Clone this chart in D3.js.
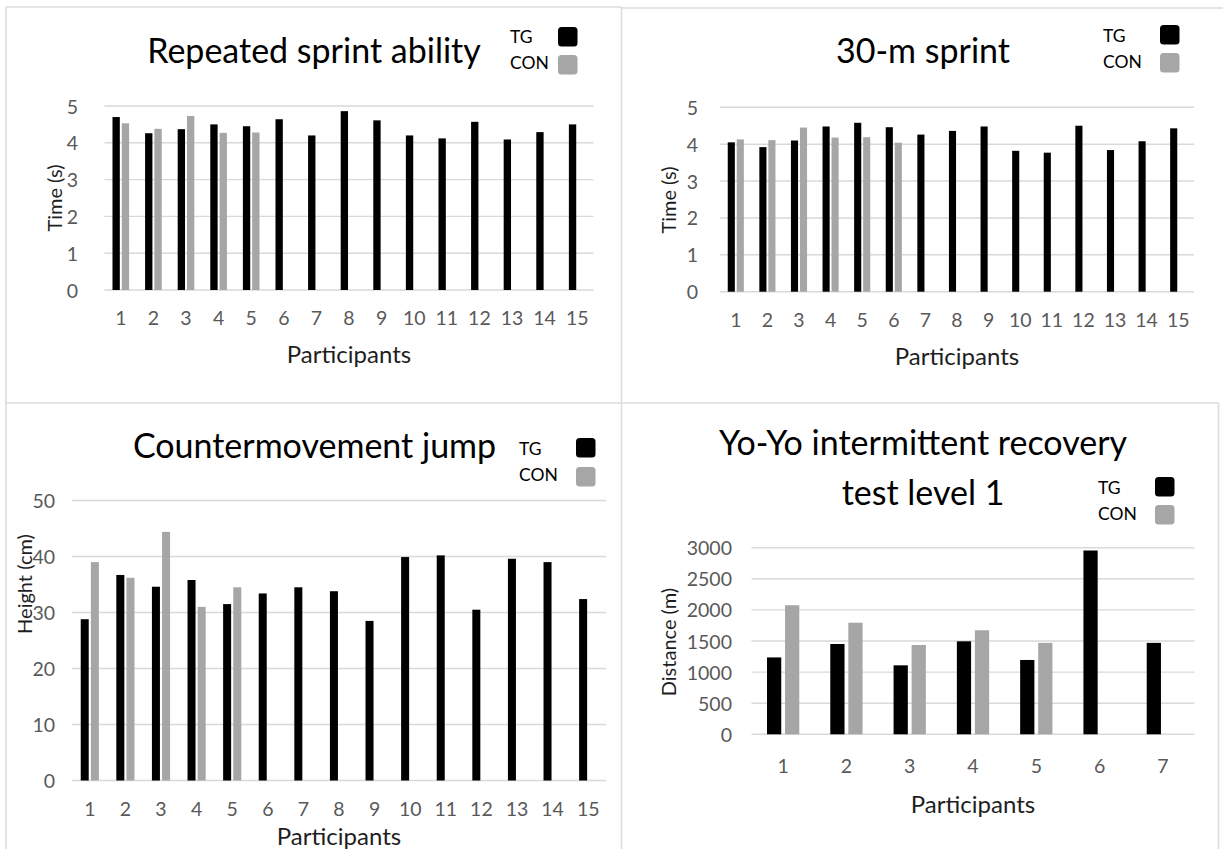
<!DOCTYPE html>
<html><head><meta charset="utf-8">
<script src="https://cdn.jsdelivr.net/npm/d3@7"></script>
<style>
body{margin:0;background:#fff}
svg{display:block}
text{font-family:Lato,"Open Sans",sans-serif}
</style>
</head><body>
<svg id="c" width="1223" height="849"></svg>
<script>
// ---------- data ----------
const participants15 = ["1","2","3","4","5","6","7","8","9","10","11","12","13","14","15"];
const participants7 = ["1","2","3","4","5","6","7"];
const seriesNames = ["TG","CON"];

const rsaTG  = [4.70,4.26,4.37,4.50,4.45,4.64,4.20,4.86,4.61,4.20,4.12,4.57,4.09,4.29,4.50];
const rsaCON = [4.53,4.38,4.73,4.27,4.28];

const sprintTG  = [4.05,3.92,4.10,4.48,4.58,4.46,4.26,4.36,4.48,3.82,3.77,4.50,3.84,4.08,4.43];
const sprintCON = [4.13,4.11,4.45,4.18,4.19,4.04];

const cmjTG  = [28.8,36.7,34.6,35.8,31.5,33.4,34.5,33.8,28.5,39.9,40.2,30.5,39.6,39.0,32.4];
const cmjCON = [39.0,36.2,44.4,31.0,34.5];

const yoyoTG  = [1236,1452,1109,1495,1195,2955,1470];
const yoyoCON = [2075,1794,1436,1672,1470];

const timeTicks = [0,1,2,3,4,5];
const heightTicks = [0,10,20,30,40,50];
const distanceTicks = [0,500,1000,1500,2000,2500,3000];

// ---------- layout ----------
const svg = d3.select("#c");
const GRID = "#d9d9d9", TICK = "#595959", LABEL = "#1e1e1e", TG_C = "#000", CON_C = "#a6a6a6";

// panel borders
const borders = [
  [6,7,622,7],[622,8,1223,8],[6,7,6,849],[621.5,7,621.5,849],
  [6,403,1219,403],[1218.5,403,1218.5,849]
];
svg.append("g").selectAll("line").data(borders).join("line")
  .attr("x1",d=>d[0]).attr("y1",d=>d[1]).attr("x2",d=>d[2]).attr("y2",d=>d[3])
  .attr("stroke","#dcdcdc").attr("stroke-width",1.6);

function panel(o){
  const g = svg.append("g");
  const x = d3.scaleBand().domain(o.cats).range([o.left,o.right]).paddingInner(0).paddingOuter(0);
  const y = d3.scaleLinear().domain([0,o.ticks[o.ticks.length-1]]).range([o.bottom,o.top]);
  const bw = x.bandwidth(), w = bw*0.225, gap = bw*0.06;

  // gridlines
  g.append("g").selectAll("line").data(o.ticks).join("line")
    .attr("x1",o.left).attr("x2",o.right)
    .attr("y1",d=>y(d)).attr("y2",d=>y(d))
    .attr("stroke",GRID).attr("stroke-width",1.4);

  // y axis labels
  const ya = g.append("g").attr("transform",`translate(${o.tickRight},0)`)
    .call(d3.axisLeft(y).tickValues(o.ticks).tickSize(0).tickPadding(0).tickFormat(d3.format("d")));
  ya.select(".domain").remove();
  ya.selectAll("text").attr("fill",TICK).style("font-size","19.5px").style("font-family","Lato").attr("dy","0.36em");

  // x axis labels
  const fs = 19.5;
  const xa = g.append("g").attr("transform",`translate(0,${o.bottom})`)
    .call(d3.axisBottom(x).tickSize(0).tickPadding(o.xTickBase - o.bottom - 0.71*fs));
  xa.select(".domain").remove();
  xa.selectAll("text").attr("fill",TICK).style("font-size",fs+"px").style("font-family","Lato");

  // bars
  const data = [];
  o.tg.forEach((v,i)=>data.push({s:"TG",c:o.cats[i],v}));
  o.con.forEach((v,i)=>data.push({s:"CON",c:o.cats[i],v}));
  g.append("g").selectAll("rect").data(data).join("rect")
    .attr("x",d=>{const c = x(d.c)+bw/2; return d.s==="TG" ? c-gap/2-w : c+gap/2;})
    .attr("width",w)
    .attr("y",d=>y(d.v)).attr("height",d=>y(0)-y(d.v))
    .attr("fill",d=>d.s==="TG"?TG_C:CON_C);

  // title
  o.title.forEach((t,i)=>{
    g.append("text").attr("x",o.titleX).attr("y",o.titleBase[i]).attr("text-anchor","middle")
      .style("font-size","34px").attr("fill","#000").text(t);
  });

  // axis titles
  g.append("text").attr("transform",`translate(${o.yLabX},${o.yLabY}) rotate(-90)`)
    .attr("text-anchor","middle").attr("dy","0.36em").style("font-size","20px").attr("fill",LABEL).text(o.yLabel);
  g.append("text").attr("x",(o.left+o.right)/2).attr("y",o.xLabBase).attr("text-anchor","middle")
    .style("font-size","24px").attr("fill",LABEL).text("Participants");

  // legend
  const lg = g.append("g");
  seriesNames.forEach((s,i)=>{
    lg.append("text").attr("x",o.legX).attr("y",o.legBase[i]).style("font-size","17.5px").attr("fill","#000").text(s);
    lg.append("rect").attr("x",o.sqX).attr("y",o.sqY[i]).attr("width",19.5).attr("height",19.5)
      .attr("rx",3.5).attr("fill",i===0?TG_C:CON_C);
  });
}

panel({cats:participants15, tg:rsaTG, con:rsaCON, ticks:timeTicks,
  left:104.5,right:593.5,top:106,bottom:290, tickRight:78, xTickBase:325, xLabBase:363,
  title:["Repeated sprint ability"], titleX:314, titleBase:[63],
  yLabel:"Time (s)", yLabX:55, yLabY:198,
  legX:510, legBase:[43,69], sqX:558, sqY:[27,55]});

panel({cats:participants15, tg:sprintTG, con:sprintCON, ticks:timeTicks,
  left:720,right:1194,top:107.3,bottom:291.7, tickRight:698, xTickBase:327, xLabBase:365,
  title:["30-m sprint"], titleX:923, titleBase:[63],
  yLabel:"Time (s)", yLabX:669, yLabY:200,
  legX:1103, legBase:[42,68], sqX:1160, sqY:[25,53]});

panel({cats:participants15, tg:cmjTG, con:cmjCON, ticks:heightTicks,
  left:72,right:606,top:500.5,bottom:780.5, tickRight:55, xTickBase:816, xLabBase:845,
  title:["Countermovement jump"], titleX:314.5, titleBase:[458],
  yLabel:"Height (cm)", yLabX:25, yLabY:584,
  legX:519, legBase:[455,481], sqX:576, sqY:[438,467]});

panel({cats:participants7, tg:yoyoTG, con:yoyoCON, ticks:distanceTicks,
  left:751.5,right:1194.5,top:547.7,bottom:734.3, tickRight:732, xTickBase:773, xLabBase:813,
  title:["Yo-Yo intermittent recovery","test level 1"], titleX:923, titleBase:[455,505],
  yLabel:"Distance (m)", yLabX:669, yLabY:642,
  legX:1098, legBase:[494,520], sqX:1155, sqY:[477,505]});
</script>
</body></html>
